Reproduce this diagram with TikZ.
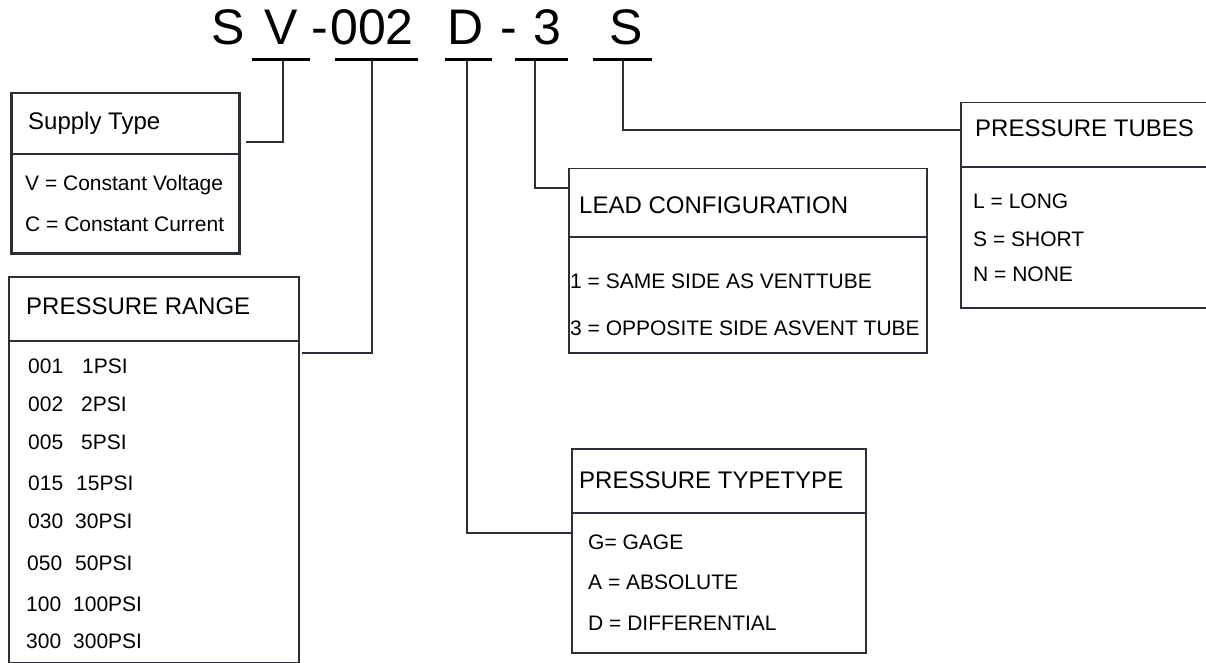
\documentclass[tikz,border=0pt]{standalone}
\usepackage{fontspec}
\setmainfont{Liberation Sans}
\definecolor{linec}{HTML}{2B2F36}
\begin{document}
\begin{tikzpicture}[x=1pt,y=-1pt,
  hdr/.style={anchor=base west, inner sep=0pt, font=\fontsize{24}{28}\selectfont},
  itm/.style={anchor=base west, inner sep=0pt, font=\fontsize{21}{25}\selectfont},
  ttl/.style={anchor=base, inner sep=0pt, font=\fontsize{50}{60}\selectfont},
  box/.style={draw=linec, line width=1.5pt, anchor=north west, inner sep=0pt},
  thickbox/.style={box, line width=2.5pt},
  conn/.style={draw=linec, line width=2pt},
  divider/.style={draw=linec, line width=2pt},
  uline/.style={draw=black, line width=3pt}]
\useasboundingbox (0,0) rectangle (1206,663);
% title
\node[ttl] (tS1) at (228,45) {S};
\node[ttl] (tV) at (281,45) {V};
\node[ttl] (tdash1) at (320,45) {-};
\node[ttl] (t002) at (372,45) {002};
\node[ttl] (tD) at (466,45) {D};
\node[ttl] (tdash2) at (509,45) {-};
\node[ttl] (t3) at (547,45) {3};
\node[ttl] (tS2) at (626,45) {S};
% underlines
\draw[uline] (252,60) -- (310,60);
\draw[uline] (335,60) -- (418,60);
\draw[uline] (445,60) -- (492,60);
\draw[uline] (515,60) -- (568,60);
\draw[uline] (593,60) -- (652,60);
% stem start points
\coordinate (sV) at (283,61);
\coordinate (s002) at (372,61);
\coordinate (sD) at (467,61);
\coordinate (s3) at (535,61);
\coordinate (sS) at (623,61);
% boxes
\node[thickbox, minimum width=228pt, minimum height=160pt] (supply) at (10,92) {};
\node[box, minimum width=290pt, minimum height=386pt] (prange) at (8,276) {};
\node[box, minimum width=358pt, minimum height=184pt] (lead) at (568,168) {};
\node[box, minimum width=294pt, minimum height=204pt] (ptype) at (571,448) {};
\node[box, minimum width=260pt, minimum height=205pt] (tubes) at (960,102) {};
% dividers
\draw[divider] (supply.west |- 0,154) -- (supply.east |- 0,154);
\draw[divider] (prange.west |- 0,341) -- (prange.east |- 0,341);
\draw[divider] (lead.west |- 0,237) -- (lead.east |- 0,237);
\draw[divider] (ptype.west |- 0,513) -- (ptype.east |- 0,513);
\draw[divider] (tubes.west |- 0,167) -- (tubes.east |- 0,167);
% connectors
\coordinate (cV) at (283,142);
\coordinate (c002) at (372,353);
\coordinate (cD) at (467,533);
\coordinate (c3) at (535,188);
\coordinate (cS) at (623,130);
\draw[conn] (sV) -- (cV) -- ([xshift=5pt]cV -| supply.east);
\draw[conn] (s002) -- (c002) -- ([xshift=2pt]c002 -| prange.east);
\draw[conn] (sD) -- (cD) -- (cD -| ptype.west);
\draw[conn] (s3) -- (c3) -- (c3 -| lead.west);
\draw[conn] (sS) -- (cS) -- (cS -| tubes.west);
% Supply type texts
\node[hdr] (supplyh) at (28,130) {Supply Type};
\node[itm] (supply1) at (25,190.5) {V = Constant Voltage};
\node[itm] (supply2) at (25,231.5) {C = Constant Current};
% Pressure range texts
\node[hdr] (prangeh) at (26,314) {PRESSURE RANGE};
\node[itm] (pr1a) at (28,373) {001};   \node[itm] (pr1b) at (82,373) {1PSI};
\node[itm] (pr2a) at (28,411) {002};   \node[itm] (pr2b) at (81,411) {2PSI};
\node[itm] (pr3a) at (28,449) {005};   \node[itm] (pr3b) at (81,449) {5PSI};
\node[itm] (pr4a) at (28,490) {015};   \node[itm] (pr4b) at (76,490) {15PSI};
\node[itm] (pr5a) at (28,528) {030};   \node[itm] (pr5b) at (75,528) {30PSI};
\node[itm] (pr6a) at (27,570) {050};   \node[itm] (pr6b) at (75,570) {50PSI};
\node[itm] (pr7a) at (26,611) {100};   \node[itm] (pr7b) at (73,611) {100PSI};
\node[itm] (pr8a) at (26,648) {300};   \node[itm] (pr8b) at (73,648) {300PSI};
% Lead configuration texts
\node[hdr] (leadh) at (579,213) {LEAD CONFIGURATION};
\node[itm] (lead1) at (570,288) {1 = SAME SIDE AS VENTTUBE};
\node[itm] (lead2) at (570,335) {3 = OPPOSITE SIDE ASVENT TUBE};
% Pressure type texts
\node[hdr] (ptypeh) at (579,488) {PRESSURE TYPETYPE};
\node[itm] (ptype1) at (588,549) {G= GAGE};
\node[itm] (ptype2) at (588,589) {A = ABSOLUTE};
\node[itm] (ptype3) at (588,630) {D = DIFFERENTIAL};
% Pressure tubes texts
\node[hdr] (tubesh) at (975,137) {PRESSURE TUBES};
\node[itm] (tubes1) at (973,208) {L = LONG};
\node[itm] (tubes2) at (973,246) {S = SHORT};
\node[itm] (tubes3) at (973,281) {N = NONE};
\end{tikzpicture}
\end{document}
